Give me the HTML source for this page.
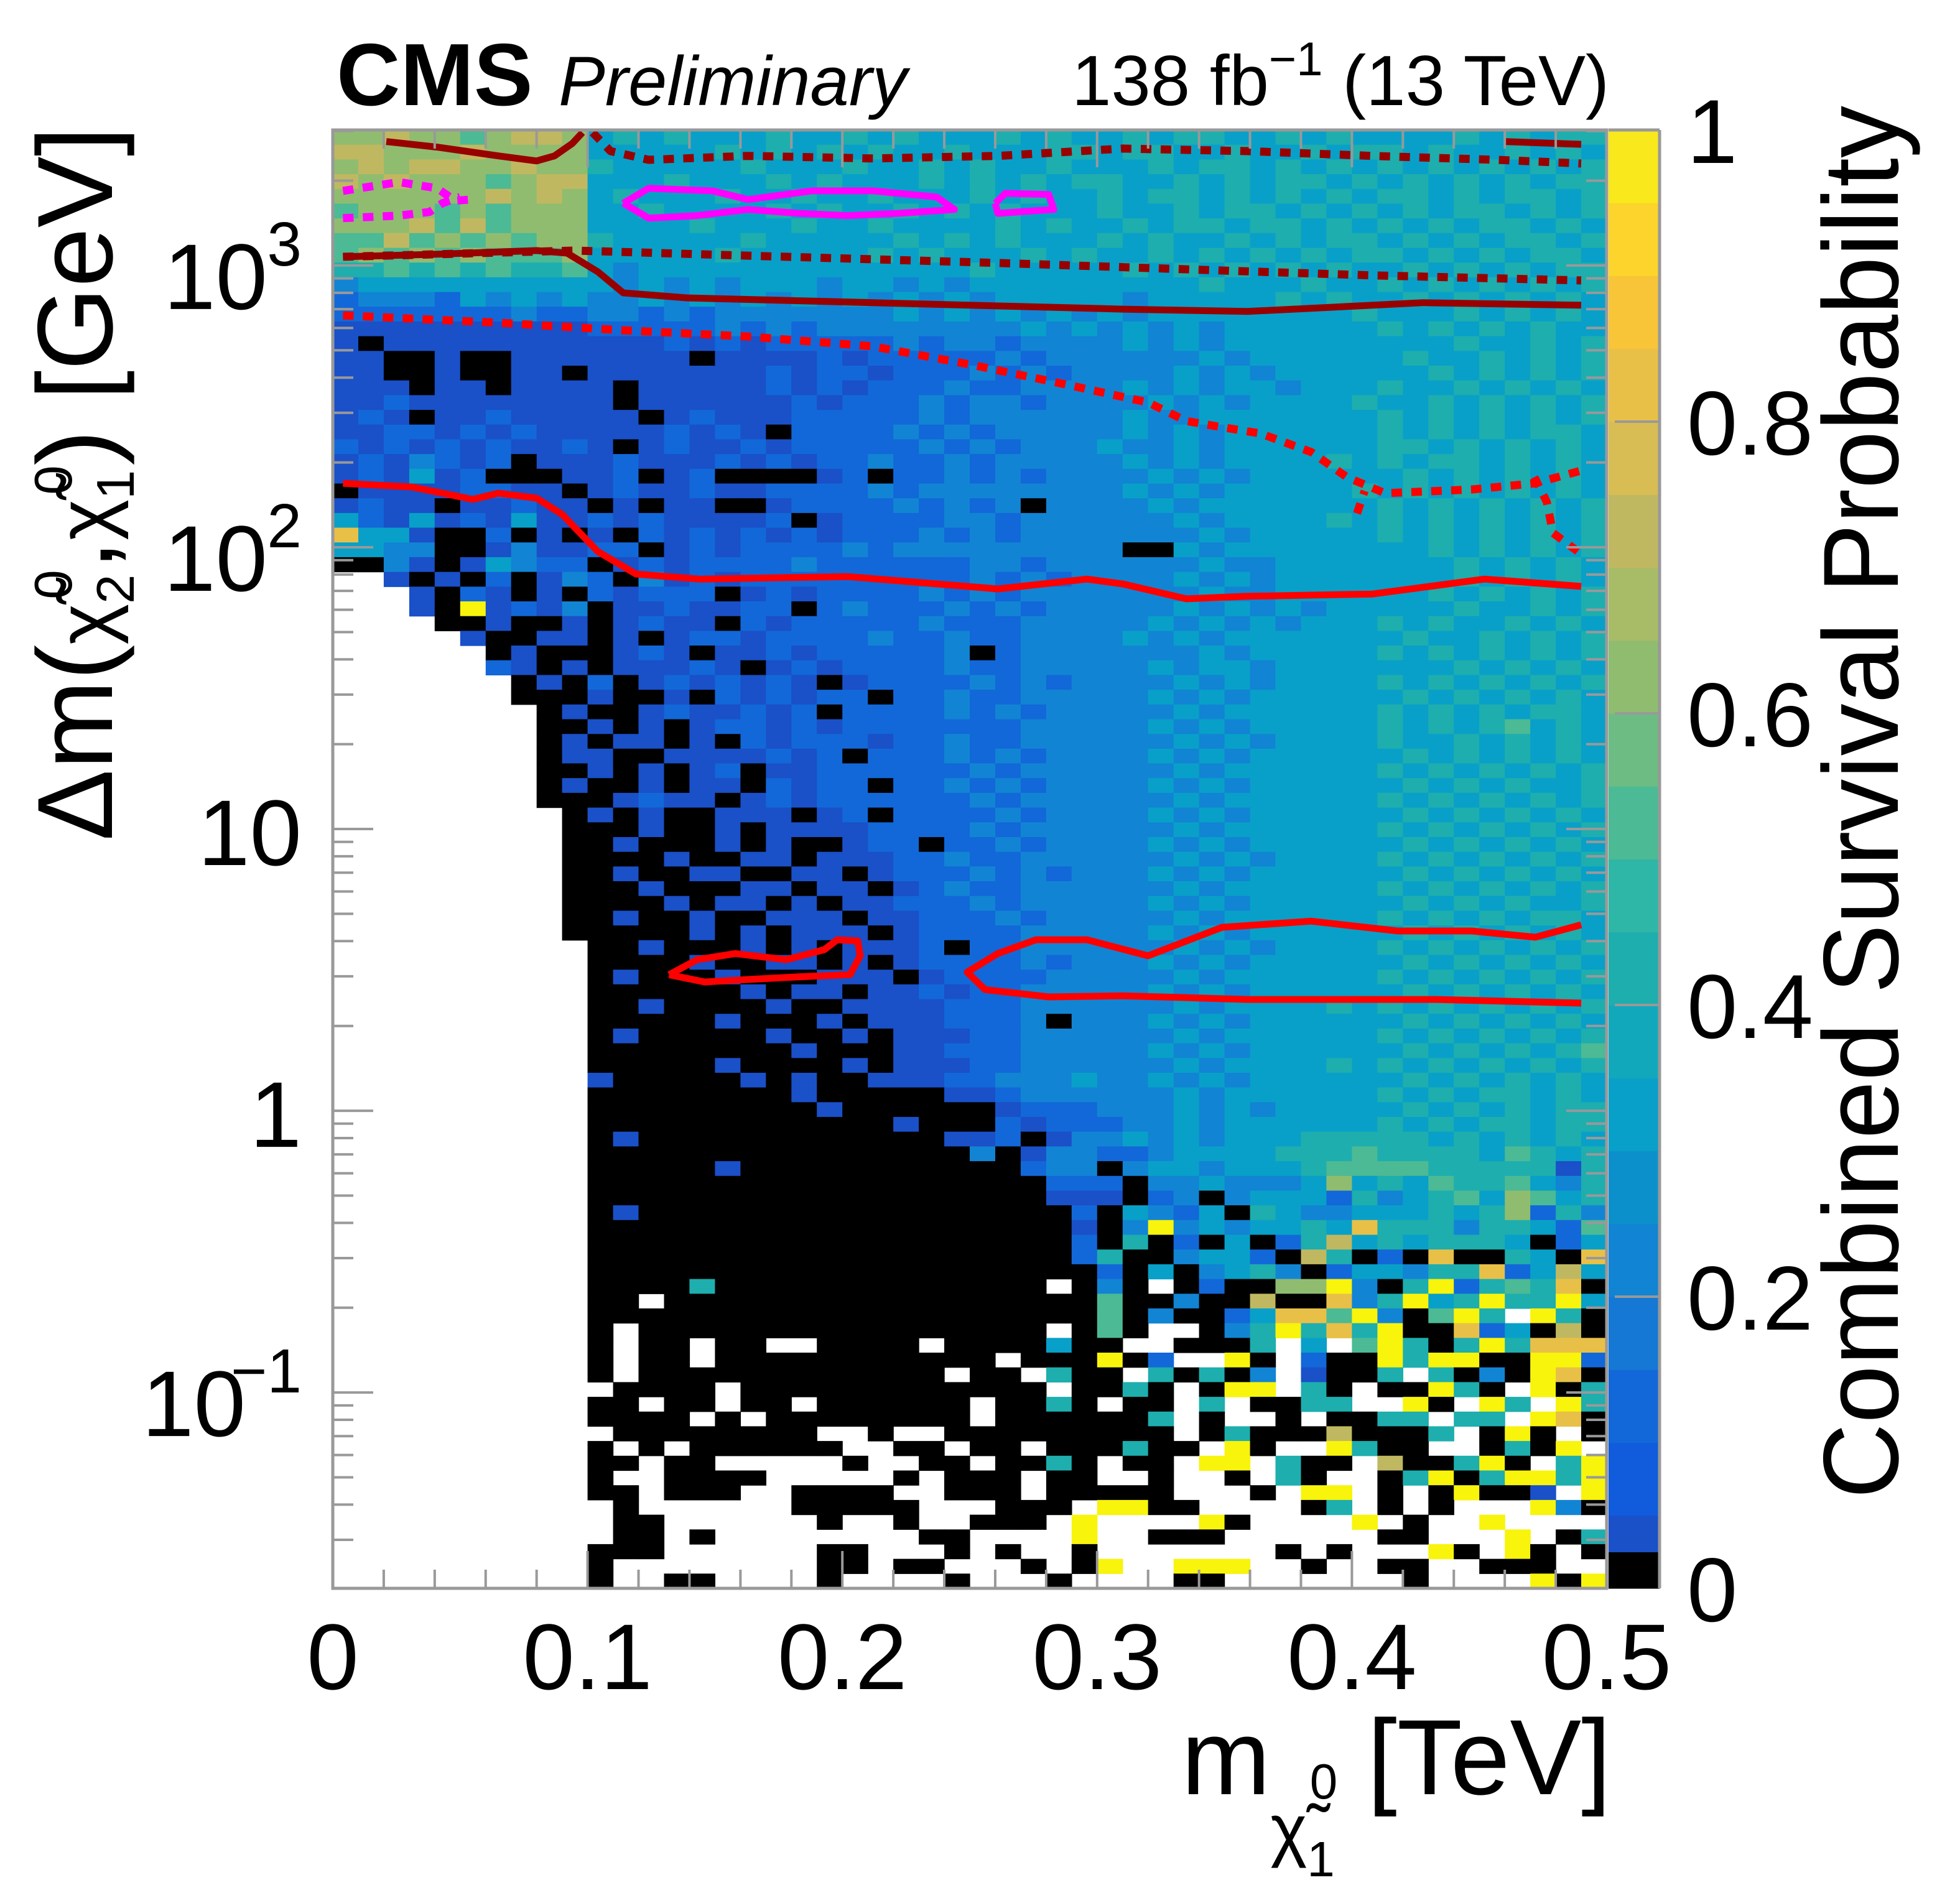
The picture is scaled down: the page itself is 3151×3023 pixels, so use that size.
<!DOCTYPE html>
<html><head><meta charset="utf-8">
<style>
html,body{margin:0;padding:0;background:#fff;}
svg{display:block;}
text{font-family:"Liberation Sans",Arial,sans-serif;fill:#000;}
</style></head>
<body>
<svg id="chart" xmlns="http://www.w3.org/2000/svg" width="3151" height="3023" viewBox="0 0 3151 3023">
  <rect width="3151" height="3023" fill="#fff"/>
  <g id="heatmap"></g>
  <g id="contours"></g>
  <g id="axes"></g>
  <g id="colorbar"></g>
  <text x="541" y="169" font-size="142" font-weight="bold">CMS</text>
  <text x="898" y="169" font-size="112" font-style="italic">Preliminary</text>
  <text x="2587" y="169" font-size="114" text-anchor="end">138 fb<tspan font-size="76" dy="-48">−1</tspan><tspan dy="48"> (13 TeV)</tspan></text>
  <text x="2590" y="2885" font-size="172" text-anchor="end">m<tspan font-size="112" dy="95">χ̃</tspan><tspan font-size="80" dy="37">1</tspan><tspan font-size="80" dx="-40" dy="-125">0</tspan><tspan dy="-7"> [TeV]</tspan></text>
  <text transform="translate(180,1352) rotate(-90)" x="0" y="0" font-size="172">Δm(<tspan font-size="125">χ̃</tspan><tspan font-size="85" dy="35">2</tspan><tspan font-size="85" dx="-40" dy="-100">0</tspan><tspan dy="65">,</tspan><tspan font-size="125">χ̃</tspan><tspan font-size="85" dy="35">1</tspan><tspan font-size="85" dx="-40" dy="-100">0</tspan><tspan dy="65">) [GeV]</tspan></text>
  <text transform="translate(3051,2410) rotate(-90)" x="0" y="0" font-size="172" textLength="2240" lengthAdjust="spacingAndGlyphs">Combined Survival Probability</text>
</svg>
<script>
// ---- data ----
const xCategoriesTeV = [0,0.01,0.02,0.03,0.04,0.05,0.06,0.07,0.08,0.09,0.1,0.11,0.12,0.13,0.14,0.15,0.16,0.17,0.18,0.19,0.2,0.21,0.22,0.23,0.24,0.25,0.26,0.27,0.28,0.29,0.3,0.31,0.32,0.33,0.34,0.35,0.36,0.37,0.38,0.39,0.4,0.41,0.42,0.43,0.44,0.45,0.46,0.47,0.48,0.49];
// probability codes per row (top to bottom): w=empty, k=0, 0=0.04, digit d = ~d/10, a=1
const gridRows = [
"7787767887 4545444544 5454445454 4545544545 4444545455",
"8877787777 4444454545 4544544455 4554454454 5545445454",
"7878877877 5444445444 5445454454 4454554545 4545454545",
"8787776788 4445444545 4445454545 5445454554 5454545455",
"7777778787 4544454454 4544454544 5455454545 4554545545",
"6777676777 4454444545 4454545444 5445455454 5454554545",
"7778686777 4444544454 4544445454 4545545545 4545455454",
"6686767677 5444445444 4454545444 5454454545 5454545545",
"6767676667 4444454444 4545444545 4454545454 5545454554",
"5565656556 4344444444 4444454444 4545454545 4454545455",
"3444444444 4343434443 4434344444 4444544454 4545454545",
"2333243434 3343434343 4343434444 4344444545 4454545454",
"2222222322 3323233333 3343434343 4344444444 5444545454",
"1111111111 2222232323 3333333434 3434344444 4545454544",
"1k11111111 1112121222 2232332333 3434344444 4444544545",
"01kk1kk001 0101k11112 1222223233 3333434444 4454454545",
"00kk0kk00k 0101101212 2122232323 3334343444 4445454545",
"001k00k001 0k01111212 1222322333 3434344344 4544545454",
"1121011101 1k11111121 2223233233 3343434444 5445454545",
"121k012110 11k1211122 2223233333 3433444444 4545454545",
"1122121210 1112121k22 2232323333 3434344444 4545454554",
"2121212112 1k12112122 2223232333 4334344444 4554545454",
"1213212k11 1211121212 2322323333 3434344445 4545545454",
"120412kkk0 12k12kkkk1 2k22323233 3343434444 4454545454",
"k01102210k 1211211222 2323333333 3434344444 5454545454",
"1201k10201 k1k11kk122 2232323k33 3343444444 4545454545",
"4214120401 21211112k1 2222332333 3334344445 4545454545",
"9440kk2k1k 1k21212121 2223232333 3333434444 4545454545",
"4433kk1311 22k1212222 3233333333 3kk4344444 4445454545",
"kk31k14322 k121222232 2222233233 3333433444 4444545454",
"ww1k1k2k13 2k31212222 2222232323 3334343444 4444545454",
"www0k21k1k 21222k1212 2223232333 3333433444 4445454545",
"www1ka1213 k1121122k2 3222323233 3334343434 4444544545",
"wwwwkk1kk1 k1211k2122 2223222333 3343434344 4545445454",
"wwwww0kk11 k1k1221222 2322322333 3434344444 4454454545",
"wwwwwwk1kk k121k11212 22223k2333 3333434444 4545454545",
"wwwwww21k1 k11121k121 2222322333 3343443444 4444545454",
"wwwwwwwk1k 2k1212121k 1222232323 3334343444 4545454545",
"wwwwwwwkkk 1kk1k21212 2k22322333 3343434444 4454545454",
"wwwwwwwwk1 kk1211212k 2222323233 3334344444 4545454554",
"wwwwwwwwkk 1k1k122121 2222222333 3343434444 4545456454",
"wwwwwwwwk1 k11k1k2122 2122322333 3334343444 4544545454",
"wwwwwwwwk1 1kk1111212 k222323233 3343434444 4454545454",
"wwwwwwwwkk 1k1k12k112 2222232333 3334344444 4545454545",
"wwwwwwwwk1 kk1k11k212 2k22323233 3343434444 4454545445",
"wwwwwwwwkk k1211k1212 2222232333 3334344444 4545454545",
"wwwwwwwwwk 0k0kk000k1 2k22223233 3343434444 4454545454",
"wwwwwwwwwk kk0kk0k001 1222232333 3334344444 4545454545",
"wwwwwwwwwk k0kkk0k0kk 022k223233 3343434444 4454545454",
"wwwwwwwwwk kkk0kk00k0 0122322333 3334343444 4545454545",
"wwwwwwwwwk k0kk00kk00 k122232323 3343434444 4454545454",
"wwwwwwwwwk kk0kkk00k0 0k12322333 3334344444 4545454545",
"wwwwwwwwwk kkk0k00k0k 0122232333 3343434444 4454545445",
"wwwwwwwwwk k0kk0kk000 k012223233 3334344444 4545454554",
"wwwwwwwwwk kkkk0k0k00 0k02222333 3343434444 4454545454",
"wwwwwwwwww kk0kkk0k0k 0012k22333 3334343444 4545454545",
"wwwwwwwwww kkkk0kk00k 0k02222323 3343434444 4454545454",
"wwwwwwwwww k0kkk0kkk0 00k1222233 3334344444 4545454545",
"wwwwwwwwww kkkkkk0k00 k002122333 3343434444 4454545454",
"wwwwwwwwww kk0kkkk0kk 0011222333 3334344445 4545454545",
"wwwwwwwwww kkkkk0kkk0 k0012223k3 3343434444 4454545454",
"wwwwwwwwww k0kkkkk0kk 0k01122333 3334344444 4545454545",
"wwwwwwwwww kkkkkkkk0k kk01222333 3343434444 4454545456",
"wwwwwwwwww kkkkk0kkkk 0k00122333 3334344445 4545454545",
"wwwwwwwwww 0kkkkk0k0k k001223334 3343434444 4454545454",
"wwwwwwwwww kkkkkkkk0k kkkk012333 3334344444 4545455454",
"wwwwwwwwww kkkkkkkkk0 kkkkkk0222 3334343444 4454545455",
"wwwwwwwwww kkkkkkkkkk kk0kkk2122 2334344444 4545455455",
"wwwwwwwwww k1kkkkkkkk kkkk012k13 3434344455 5554545454",
"wwwwwwwwww kkkkkkkkkk kkkkk3k133 2234444555 6555546545",
"wwwwwwwwww kkkkk1kkkk kkkkkkk233 k344344456 6665555515",
"wwwwwwwwww kkkkkkkkkk kkkkkkkk22 2k33433347 4546556435",
"wwwwwwwwww kkkkkkkkkk kkkkkkkk11 1k23k34442 5345647645",
"wwwwwwwwww k1kkkkkkkk kkkkkkkkk2 k4324k5433 4445457253",
"wwwwwwwwww kkkkkkkkkk kkkkkkkkk1 k3a3434454 9555355426",
"wwwwwwwwww kkkkkkkkkk kkkkkkkkk2 k5k2k4k258 4545554k24",
"wwwwwwwwww kkkkkkkkkk kkkkkkkkk2 5kk3442k85 k2k9kk54k9",
"wwwwwwwwww kkkkkkkkkk kkkkkkkkkk 2k4k3453k2 4435592484",
"wwwwwwwwww kkkk5kkkkk kkkkkkkkwk 3kwk2kk77a 3k5a25659k",
"wwwwwwwwww kkwkkkkkkk kkkkkkkkkk 6kk3kk8kk9 35a45a55a4",
"wwwwwwwwww kkkkkkkkkk kkkkkkkkkk 6k3kk24996 a3k6a5wa5k",
"wwwwwwwwww kwkkkkkkkk kkkkkkkkwk 6kwwk35a59 5akk924k8k",
"wwwwwwwwww kwkkwkkwwk kkkwkkkk4k kwwkkk5w4w 6a5k5a5999",
"wwwwwwwwww kwkkwkkkkk kkkkkkwkkk ak2wwakw2k ka5aakkaa2",
"wwwwwwwwww kwkkkkkkkk kkkkwkkw5k kw5k5k3w1k k5w5k3ka9k",
"wwwwwwwwww wkkkkwkkkk kkkkkkkkwk k5kwkaaw5k wkka5kwak5",
"wwwwwwwwww kkwkkwkkwk kkkkkwkk5k wkkw5wkk55 wwakwa5wa5",
"wwwwwwwwww kkkkwkwkkk kkkkkwkkkk kk5wkwwkwk k55w55wa9k",
"wwwwwwwwww wkkkkkkkkw wkwwkkkkkk kkkwk5kkk8 kkk5wkakwk",
"wwwwwwwwww kwkwkkkkkk wwkkwkkwkk k5kkwakwwa 5kkwwk5kaw",
"wwwwwwwwww kkwkkwwwww kwwkkwkk5k wkkwaaw5kk w8kk5akw5a",
"wwwwwwwwww kwwkkkkwww wwkwkkkwkk wwkwwkw5kw wk5ak5aa5a",
"wwwwwwwwww kkwkkkwwkk kkwwkkkwkk kkkwwwkwaa wkwkakk1wa",
"wwwwwwwwww wkwwwwwwkk kkkwwwkkkw aakkwwwwk5 wkwkwwwa3k",
"wwwwwwwwww wkkwwwwwwk wwkwwkkkwa wwwwakwwww awkwwawwww",
"wwwwwwwwww wkkwkwwwww wwwkkwwwwa wwkkkwwwww wkkwwwawk5",
"wwwwwwwwww kkkwwwwwwk kwwwkwkwwk wwwwwwwkwk wwwakwakwk",
"wwwwwwwwww kwwwwwwwwk kwkkwwwkwk awwaaawwkw wkkwwkkkww",
"wwwwwwwwww kwwkkwwwwk wwwwkwwwkw wwwkkwwwww wwkwwwwaka"
];
const yLogTop = 3.481, yLogBottom = -1.695;
const yTickExponents = [3,2,1,0,-1];
const yTickLabels = ["10|3","10|2","10|","1|","10|−1"];
const xTicks = [0,0.1,0.2,0.3,0.4,0.5];
const xTickLabels = ["0","0.1","0.2","0.3","0.4","0.5"];
const zTicks = [0,0.2,0.4,0.6,0.8,1];
const zTickLabels = ["0","0.2","0.4","0.6","0.8","1"];
// contours: x in TeV, y as log10(dm/GeV)
const darkSolidA_x = [0.021,0.041,0.065,0.080,0.087,0.094,0.098];
const darkSolidA_y = [3.44,3.42,3.389,3.371,3.389,3.433,3.472];
const darkSolidB_x = [0.46,0.49];
const darkSolidB_y = [3.44,3.43];
const darkDotA_x = [0.102,0.109,0.124,0.163,0.212,0.261,0.310,0.359,0.408,0.457,0.490];
const darkDotA_y = [3.472,3.406,3.375,3.389,3.380,3.389,3.415,3.406,3.389,3.375,3.362];
const darkSolidC_x = [0.004,0.041,0.080,0.092,0.104,0.114,0.139,0.212,0.310,0.359,0.428,0.490];
const darkSolidC_y = [3.031,3.040,3.053,3.044,2.978,2.903,2.885,2.868,2.845,2.837,2.868,2.859];
const darkDotB_x = [0.004,0.095,0.163,0.261,0.363,0.408,0.490];
const darkDotB_y = [3.031,3.053,3.035,3.009,2.978,2.965,2.947];
const redDotA_x = [0.004,0.065,0.114,0.163,0.212,0.251,0.286,0.320,0.335,0.349,0.364,0.384,0.398,0.413,0.447,0.472,0.490];
const redDotA_y = [2.823,2.797,2.770,2.748,2.713,2.647,2.581,2.514,2.448,2.426,2.404,2.338,2.249,2.192,2.205,2.227,2.272];
const redDotB_x = [0.4716,0.4765,0.4789,0.4887];
const redDotB_y = [2.249,2.161,2.051,1.985];
const redDotC_x = [0.402,0.405];
const redDotC_y = [2.12,2.20];
const redSolidA_x = [0.004,0.031,0.055,0.065,0.080,0.090,0.104,0.119,0.144,0.202,0.261,0.296,0.310,0.335,0.359,0.408,0.452,0.490];
const redSolidA_y = [2.227,2.214,2.170,2.192,2.174,2.117,1.985,1.905,1.887,1.896,1.852,1.887,1.870,1.817,1.826,1.834,1.887,1.861];
const redSolidB_x = [0.490,0.472,0.447,0.418,0.384,0.349,0.320,0.296,0.276,0.261,0.249,0.256,0.281,0.310,0.359,0.433,0.490];
const redSolidB_y = [0.660,0.616,0.638,0.638,0.673,0.651,0.550,0.607,0.607,0.558,0.492,0.430,0.404,0.408,0.395,0.395,0.382];
const redSolidC_x = [0.132,0.143,0.158,0.178,0.193,0.198,0.206,0.207,0.203,0.182,0.163,0.146,0.132];
const redSolidC_y = [0.483,0.536,0.558,0.536,0.572,0.607,0.603,0.550,0.483,0.475,0.466,0.457,0.483];
const magSolidA_x = [0.114,0.124,0.149,0.163,0.188,0.212,0.237,0.244,0.222,0.202,0.183,0.163,0.143,0.124,0.114];
const magSolidA_y = [3.221,3.274,3.265,3.234,3.265,3.265,3.243,3.199,3.185,3.177,3.185,3.199,3.177,3.168,3.221];
const magSolidB_x = [0.260,0.264,0.281,0.283,0.261,0.260];
const magSolidB_y = [3.221,3.256,3.252,3.199,3.185,3.221];
const magDotA_x = [0.004,0.026,0.041,0.048,0.054];
const magDotA_y = [3.265,3.296,3.274,3.230,3.234];
const magDotB_x = [0.004,0.026,0.038,0.043,0.050];
const magDotB_y = [3.168,3.177,3.190,3.221,3.243];

// ---- scales ----
const X0=535, X1=2583, Y0=209, Y1=2554;
function sx(x){ return X0 + x/0.5*(X1-X0); }
function sy(l){ return Y0 + (yLogTop-l)/(yLogTop-yLogBottom)*(Y1-Y0); }
function sz(v){ return Y1 - v*(Y1-Y0); }
const NS='http://www.w3.org/2000/svg';
function mk(tag, attrs, parent){ const e=document.createElementNS(NS,tag); for(const k in attrs) e.setAttribute(k,attrs[k]); parent.appendChild(e); return e; }

const bandColors=["#000000","#1a50c8","#105cdc","#1268d8","#1478d4","#1284d4","#0c90cc","#08a0c8","#12a8bc","#1eaeae","#2eb6a6","#4cba94","#6cbc84","#90bc70","#a8bc68","#c0b860","#d8bc54","#e8c048","#f8c438","#fcd42c","#f8e81c"];
function colorFor(v){
  if(v>=0.999) return "#f8f40c";
  if(v<0.025) return bandColors[0];
  if(v<0.05) return bandColors[1];
  return bandColors[Math.min(20, 2+Math.floor((v-0.05)/0.05))];
}
function codeValue(c){
  if(c==='k') return 0;
  if(c==='0') return 0.04;
  if(c==='a') return 1.0;
  return parseInt(c,10)*0.1-0.06;
}

// ---- heatmap ----
const hm=document.getElementById('heatmap');
const nRows=gridRows.length, dx=0.01;
const rowStep=(yLogTop-yLogBottom)/nRows;
for(let r=0;r<nRows;r++){
  const row=gridRows[r].replace(/ /g,'');
  const yt=sy(yLogTop-r*rowStep), yb=sy(yLogTop-(r+1)*rowStep);
  for(let i=0;i<xCategoriesTeV.length;i++){
    const c=row[i]; if(!c||c==='w') continue;
    const xl=sx(xCategoriesTeV[i]), xr=sx(xCategoriesTeV[i]+dx);
    const cell=mk('rect',{x:xl.toFixed(1),y:yt.toFixed(1),width:(xr-xl+0.6).toFixed(1),height:(yb-yt+0.6).toFixed(1),fill:colorFor(codeValue(c))},hm);
    
    
  }
}

// ---- contours ----
const cg=document.getElementById('contours');
function line(xs,ys,color,dashed,name){
  const pts=xs.map((x,i)=>sx(x).toFixed(1)+','+sy(ys[i]).toFixed(1)).join(' ');
  const p=mk('polyline',{points:pts,fill:'none',stroke:color,'stroke-width':dashed?13:11,'stroke-linejoin':'round'},cg);
  if(dashed) p.setAttribute('stroke-dasharray','17 15');
  
  
}
line(darkSolidA_x,darkSolidA_y,'#990000',false,'contour-dark-solid-top');
line(darkSolidB_x,darkSolidB_y,'#990000',false,'contour-dark-solid-top-right');
line(darkDotA_x,darkDotA_y,'#990000',true,'contour-dark-dotted-top');
line(darkSolidC_x,darkSolidC_y,'#990000',false,'contour-dark-solid-middle');
line(darkDotB_x,darkDotB_y,'#990000',true,'contour-dark-dotted-middle');
line(redDotA_x,redDotA_y,'#ff0000',true,'contour-red-dotted');
line(redDotB_x,redDotB_y,'#ff0000',true,'contour-red-dotted-edge');
line(redDotC_x,redDotC_y,'#ff0000',true,'contour-red-dotted-piece');
line(redSolidA_x,redSolidA_y,'#ff0000',false,'contour-red-solid-upper');
line(redSolidB_x,redSolidB_y,'#ff0000',false,'contour-red-solid-lower');
line(redSolidC_x,redSolidC_y,'#ff0000',false,'contour-red-solid-island');
line(magSolidA_x,magSolidA_y,'#ff00ff',false,'contour-magenta-solid');
line(magSolidB_x,magSolidB_y,'#ff00ff',false,'contour-magenta-solid-small');
line(magDotA_x,magDotA_y,'#ff00ff',true,'contour-magenta-dotted-upper');
line(magDotB_x,magDotB_y,'#ff00ff',true,'contour-magenta-dotted-lower');

// ---- axes ----
const ax=document.getElementById('axes');
const gray='#999999';
const frame=mk('rect',{x:X0,y:Y0,width:X1-X0,height:Y1-Y0,fill:'none',stroke:gray,'stroke-width':5},ax);


for(let e=-2;e<=3;e++){
  for(let k=1;k<=9;k++){
    const l=e+Math.log10(k);
    if(l<yLogBottom||l>yLogTop) continue;
    const y=sy(l), len=(k===1)?65:33;
    mk('line',{x1:X0,y1:y,x2:X0+len,y2:y,stroke:gray,'stroke-width':4},ax);
    mk('line',{x1:X1,y1:y,x2:X1-len,y2:y,stroke:gray,'stroke-width':4},ax);
  }
}
for(let i=0;i<=25;i++){
  const x=sx(i*0.02), len=(i%5===0)?60:30;
  mk('line',{x1:x,y1:Y1,x2:x,y2:Y1-len,stroke:gray,'stroke-width':4},ax);
  mk('line',{x1:x,y1:Y0,x2:x,y2:Y0+len,stroke:gray,'stroke-width':4},ax);
}
yTickExponents.forEach((e,i)=>{
  const parts=yTickLabels[i].split('|');
  const y=sy(e);
  const t=mk('text',{x:485,y:(y+(parts[1]?70:58)).toFixed(1),'font-size':150,'text-anchor':'end'},ax);
  
  
  t.textContent=parts[0];
  if(parts[1]){
    t.setAttribute('x', 485-(parts[1].length>1?90:55));
    const s=mk('text',{x:485,y:y.toFixed(1),'font-size':100,'text-anchor':'end'},ax);
    
    
    s.textContent=parts[1];
  }
});
xTicks.forEach((v,i)=>{
  const t=mk('text',{x:sx(v).toFixed(1),y:2716,'font-size':150,'text-anchor':'middle'},ax);
  
  
  t.textContent=xTickLabels[i];
});

// ---- colorbar ----
const cb=document.getElementById('colorbar');
const CB0=2586, CB1=2668;
const bandEdges=[0,0.025,0.05];
for(let v=0.1;v<=1.0001;v+=0.05) bandEdges.push(Math.min(1,v));
for(let b=0;b<bandEdges.length-1;b++){
  const y0=sz(bandEdges[b+1]), y1=sz(bandEdges[b]);
  const r=mk('rect',{x:CB0,y:y0.toFixed(1),width:CB1-CB0,height:(y1-y0+0.6).toFixed(1),fill:bandColors[b]},cb);
  
  
}
mk('line',{x1:CB1,y1:Y0,x2:CB1,y2:Y1,stroke:gray,'stroke-width':5},cb);
mk('line',{x1:CB0,y1:Y0,x2:CB1,y2:Y0,stroke:gray,'stroke-width':5},cb);
zTicks.forEach((v,i)=>{
  const y=sz(v);
  if(v>0&&v<1) mk('line',{x1:CB0+10,y1:y,x2:CB1,y2:y,stroke:gray,'stroke-width':4},cb);
  const t=mk('text',{x:2712,y:(y+53).toFixed(1),'font-size':146},cb);
  
  
  t.textContent=zTickLabels[i];
});
</script>
</body></html>
